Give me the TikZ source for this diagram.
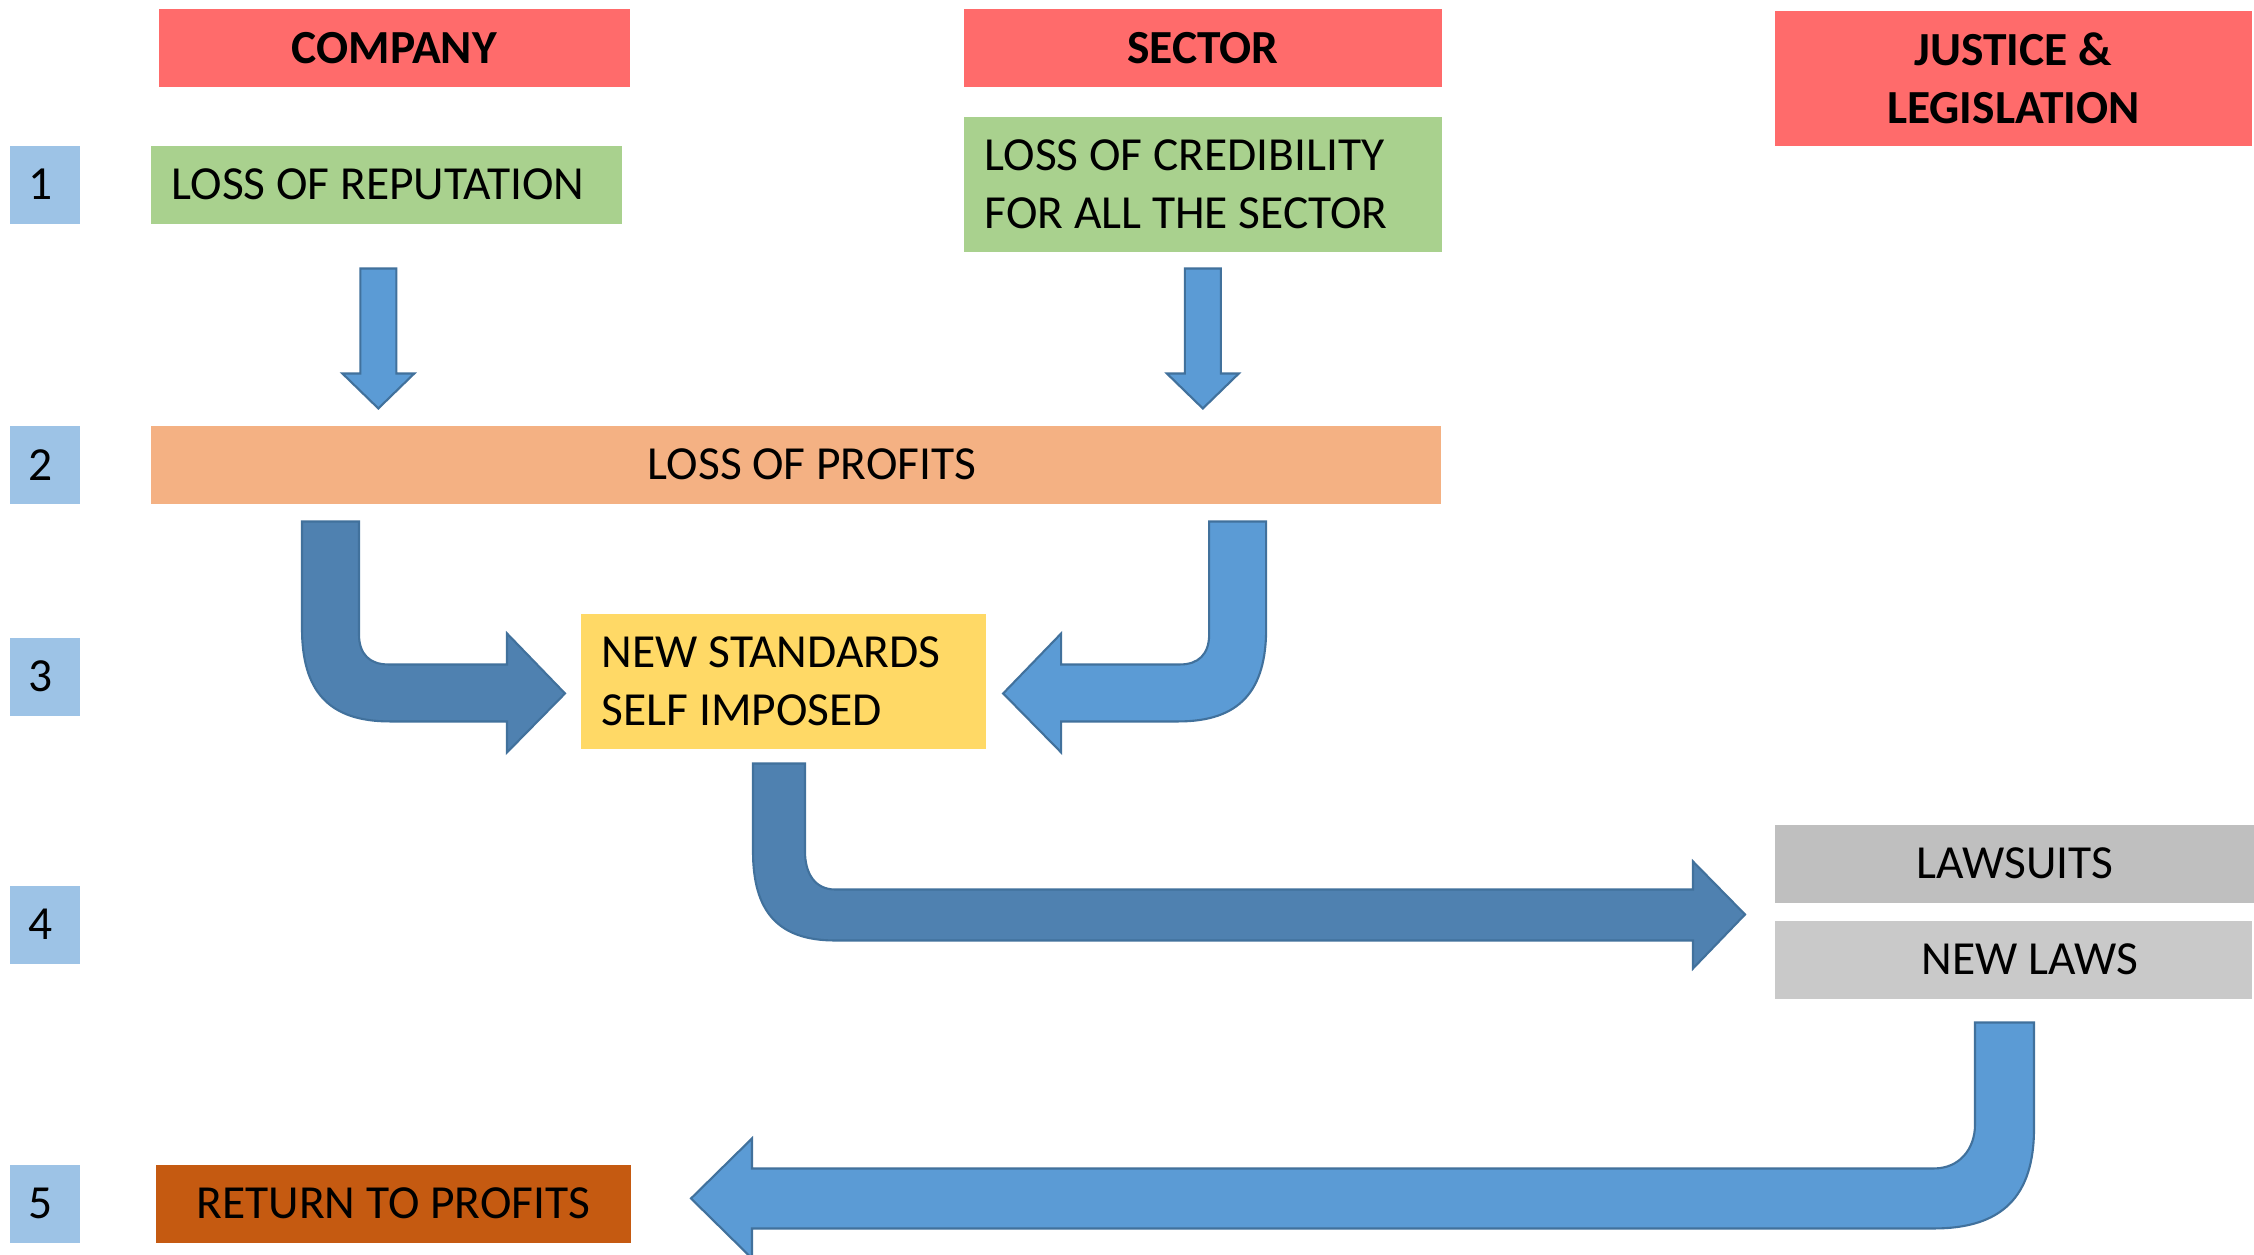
\documentclass[tikz,border=0pt]{standalone}
\usepackage{fontspec}
\setmainfont{Carlito}
\usetikzlibrary{calc}

\definecolor{headred}{HTML}{FF6B6B}
\definecolor{numblue}{HTML}{9DC3E6}
\definecolor{lossgreen}{HTML}{A9D18E}
\definecolor{profitorange}{HTML}{F4B183}
\definecolor{stdyellow}{HTML}{FFD966}
\definecolor{lawgray}{HTML}{BFBFBF}
\definecolor{newlawgray}{HTML}{C9C9C9}
\definecolor{returnbrown}{HTML}{C55A11}
\definecolor{arrowdark}{HTML}{4F81B0}
\definecolor{arrowlight}{HTML}{5B9BD5}
\definecolor{arrowline}{HTML}{41719C}

\begin{document}
\begin{tikzpicture}[x=0.01cm,y=-0.01cm,
    box/.style={anchor=north west,inner sep=0pt,minimum height=0.78cm,font=\fontsize{13.5}{16.4}\selectfont},
    header/.style={box,fill=headred,align=center,font=\fontsize{13.5}{16.4}\selectfont\bfseries},
    num/.style={box,fill=numblue,minimum width=0.7cm},
    leftbox/.style={box,align=flush left,inner xsep=0.21cm,text width=#1},
    darkarrow/.style={fill=arrowdark,draw=arrowline,line width=0.6pt},
    lightarrow/.style={fill=arrowlight,draw=arrowline,line width=0.6pt}]
    \useasboundingbox[fill=white] (0,0) rectangle (2254,1255);

    \node[header,minimum width=4.71cm] (company) at (158,8) {COMPANY};
    \node[header,minimum width=4.78cm] (sector) at (963,8) {SECTOR};
    \node[header,minimum width=4.77cm,minimum height=1.35cm] (justice) at (1774,10) {JUSTICE \&\\LEGISLATION};

    \foreach \i/\y in {1/145,2/425,3/637,4/885,5/1164}
        \node[num] (n\i) at (9,\y) {\hspace*{-0.08cm}\i};

    \node[leftbox=4.29cm,fill=lossgreen] (reputation) at (150,145) {LOSS OF REPUTATION};
    \node[leftbox=4.36cm,fill=lossgreen,minimum height=1.35cm] (credibility) at (963,116) {LOSS OF CREDIBILITY\\FOR ALL THE SECTOR};
    \node[box,fill=profitorange,minimum width=12.9cm] (profits) at (150,425) {\hspace*{0.32cm}LOSS OF PROFITS};
    \node[leftbox=3.63cm,fill=stdyellow,minimum height=1.35cm] (standards) at (580,613) {NEW STANDARDS\\SELF IMPOSED};
    \node[box,fill=lawgray,minimum width=4.8cm] (lawsuits) at (1774,824) {LAWSUITS};
    \node[box,fill=newlawgray,minimum width=4.77cm] (newlaws) at (1774,920) {\hspace*{0.33cm}NEW LAWS};
    \node[box,fill=returnbrown,minimum width=4.75cm] (returnp) at (155,1164) {RETURN TO PROFITS};

    % block arrows
    \coordinate (d1) at ($(reputation.south)+(-8,44)$);
    \coordinate (d2) at ($(credibility.south)+(0,16)$);
    \foreach \c in {d1,d2}
        \draw[lightarrow] (\c) ++(-18,0) -- ++(36,0) -- ++(0,105) -- ++(18,0) -- ++(-36,35) -- ++(-36,-35) -- ++(18,0) -- cycle;

    \coordinate (b1) at ($(profits.south west)+(152,17)$);
    \coordinate (b2) at ($(profits.south east)+(-176,17)$);
    \coordinate (b3) at ($(standards.south west)+(173,14)$);
    \coordinate (b4) at ($(newlaws.south west)+(201,23)$);
    \draw[darkarrow] (b1) -- ++(57,0) -- ++(0,113) .. controls +(0,20) and +(-18,0) .. ++(29,30)
        -- ++(119,0) -- ++(0,-31) -- ++(58,60) -- ++(-58,59) -- ++(0,-31) -- ++(-117,0)
        .. controls +(-62,0) and +(0,62) .. ++(-88,-93) -- cycle;
    \draw[lightarrow] (b2) -- ++(-57,0) -- ++(0,113) .. controls +(0,20) and +(18,0) .. ++(-29,30)
        -- ++(-119,0) -- ++(0,-31) -- ++(-58,60) -- ++(58,59) -- ++(0,-31) -- ++(117,0)
        .. controls +(62,0) and +(0,62) .. ++(88,-93) -- cycle;
    \draw[darkarrow] (b3) -- ++(52,0) -- ++(0,88) .. controls +(0,22) and +(-20,0) .. ++(30,38)
        -- ++(858,0) -- ++(0,-28) -- ++(52,53) -- ++(-52,54) -- ++(0,-28) -- ++(-858,0)
        .. controls +(-57,0) and +(0,60) .. ++(-82,-89) -- cycle;
    \draw[lightarrow] (b4) -- ++(59,0) -- ++(0,106) .. controls +(0,68) and +(68,0) .. ++(-100,100)
        -- ++(-1182,0) -- ++(0,30) -- ++(-61,-60) -- ++(61,-60) -- ++(0,30) -- ++(1182,0)
        .. controls +(25,0) and +(0,25) .. ++(41,-44) -- cycle;
\end{tikzpicture}
\end{document}
